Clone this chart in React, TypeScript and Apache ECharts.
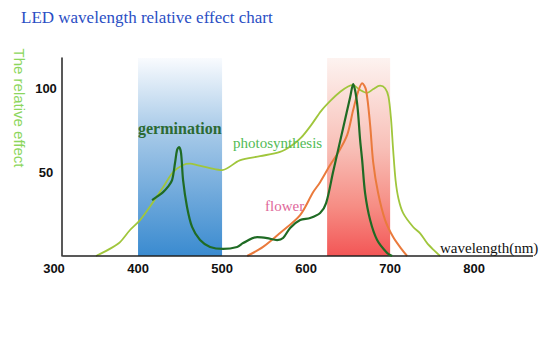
import React, { useEffect, useRef } from "react";
import * as echarts from "echarts";

const titleText = "LED wavelength relative effect chart";
const yAxisTitle = "The relative effect";
const xAxisTitle = "wavelength(nm)";

const xMin = 300;
const xMax = 870;
const yMax = 118;
const xTickStep = 100;
const yTickStep = 50;

const blueBand = [400, 500];
const redBand = [625, 700];

// [wavelength nm, relative effect]
const photosynthesis: [number, number][] = [
  [350, 0], [369, 5], [378.6, 8.3], [390.5, 15.5], [402.4, 21.4], [417.9, 32.1],
  [429.8, 41], [441.7, 50], [453.6, 54.2], [462, 55], [470.2, 54.2], [485.7, 52.4],
  [500, 51.2], [521, 57], [545.2, 59.5], [569, 62], [582, 65.5], [594, 70.5],
  [606, 78], [618, 86.5], [630, 93], [641, 98], [650, 101], [656, 101.8],
  [664, 99], [672.6, 97.2], [680, 99.5], [688, 101.5], [694, 100], [698, 95],
  [701, 82], [703.6, 63.1], [706.5, 45], [710, 34], [715.5, 25.6], [727.4, 17.3],
  [735.7, 13.5], [744, 7.7], [752, 3.5], [759.5, 0],
];

const germination: [number, number][] = [
  [416.7, 33.3], [423, 35.5], [429.8, 38.1], [436, 41.5], [440.5, 45.2], [444, 55.4],
  [446.4, 63.1], [448.8, 64.9], [451.2, 61.3], [453.6, 45.2], [458.3, 29.2],
  [464.3, 17.3], [473.8, 9.5], [485.7, 5.4], [501.2, 4.2], [517.9, 5.4], [525, 7.7],
  [541.7, 11.3], [553.6, 10.7], [565.5, 9.5], [572.6, 10.7], [581, 16.7],
  [592.9, 21.4], [604.8, 22.6], [616.7, 25.6], [623.8, 31.5], [632.1, 50],
  [644, 76.2], [652.4, 94.6], [656, 102.4], [660.7, 91], [664.3, 69],
  [666.7, 57.1], [670.2, 37.5], [676.2, 21.4], [684.5, 9.5], [696.4, 1.8], [702.4, 0],
];

const flower: [number, number][] = [
  [529.8, 0], [548.8, 5.4], [569, 13.7], [592.9, 24.4], [608.3, 38], [616.7, 44],
  [628.6, 54.2], [638, 61.5], [648.8, 72], [656, 87], [661.9, 98], [666.7, 103],
  [671.4, 98.8], [676.2, 78], [679.8, 56], [685.7, 37.5], [694, 21.4],
  [703.6, 11.3], [714.3, 3.6], [720.2, 0],
];

const baseline: [number, number][] = [[310, 0], [xMax, 0]];

const serif = "'Liberation Serif', 'Times New Roman', serif";
const sans = "'Liberation Sans', Arial, sans-serif";

export default function App() {
  const ref = useRef<HTMLDivElement>(null);

  useEffect(() => {
    if (!ref.current) return;
    const chart = echarts.init(ref.current, null, { renderer: "svg" });
    chart.setOption({
      animation: false,
      backgroundColor: "#ffffff",
      title: {
        text: titleText,
        left: 21,
        top: 9,
        padding: 0,
        textStyle: { fontFamily: serif, fontSize: 17, fontWeight: "normal", color: "#2a4ec4" },
      },
      grid: { left: 54, right: 7, top: 58, bottom: 81 },
      xAxis: {
        type: "value",
        min: xMin,
        max: xMax,
        interval: xTickStep,
        axisLine: { show: false },
        axisTick: { show: false },
        splitLine: { show: false },
        axisLabel: {
          margin: 6,
          fontFamily: sans,
          fontSize: 13,
          fontWeight: "bold",
          color: "#111",
          formatter: (v: number) => (v % 100 === 0 ? String(v) : ""),
        },
      },
      yAxis: {
        type: "value",
        min: 0,
        max: yMax,
        interval: yTickStep,
        offset: -8,
        axisLine: { show: true, lineStyle: { color: "#222", width: 1.5 } },
        axisTick: { show: false },
        splitLine: { show: false },
        axisLabel: {
          margin: 16,
          align: "center",
          fontFamily: sans,
          fontSize: 13,
          fontWeight: "bold",
          color: "#111",
          formatter: (v: number) => (v === 0 || v % 50 !== 0 ? "" : String(v)),
        },
      },
      series: [
        {
          type: "line",
          name: "bands",
          z: 1,
          data: [],
          silent: true,
          markArea: {
            silent: true,
            data: [
              [
                {
                  xAxis: blueBand[0],
                  itemStyle: {
                    color: new echarts.graphic.LinearGradient(0, 0, 0, 1, [
                      { offset: 0, color: "#f9fbfe" },
                      { offset: 0.35, color: "#abcce9" },
                      { offset: 0.7, color: "#6ea8db" },
                      { offset: 1, color: "#3a8bd0" },
                    ]),
                  },
                },
                { xAxis: blueBand[1] },
              ],
              [
                {
                  xAxis: redBand[0],
                  itemStyle: {
                    color: new echarts.graphic.LinearGradient(0, 0, 0, 1, [
                      { offset: 0, color: "#fdf3f0" },
                      { offset: 0.45, color: "#f8c0b8" },
                      { offset: 0.75, color: "#f68d84" },
                      { offset: 1, color: "#f35656" },
                    ]),
                  },
                },
                { xAxis: redBand[1] },
              ],
            ],
          },
          markLine: {
            silent: true,
            symbol: "none",
            label: { show: false },
            lineStyle: { color: "#222", width: 1.5, type: "solid" },
            data: [[{ coord: baseline[0] }, { coord: baseline[1] }]],
          },
        },
        {
          type: "line",
          name: "photosynthesis",
          z: 3,
          data: photosynthesis,
          showSymbol: false,
          smooth: 0.3,
          lineStyle: { color: "#a0c63c", width: 1.8 },
        },
        {
          type: "line",
          name: "flower",
          z: 4,
          data: flower,
          showSymbol: false,
          smooth: 0.3,
          lineStyle: { color: "#ea7a3c", width: 2 },
        },
        {
          type: "line",
          name: "germination",
          z: 5,
          data: germination,
          showSymbol: false,
          smooth: 0.3,
          lineStyle: { color: "#1f6b24", width: 2.2 },
        },
      ],
      graphic: [
        {
          type: "text",
          x: 19,
          y: 108,
          rotation: -Math.PI / 2,
          style: {
            text: yAxisTitle,
            fontFamily: sans,
            fontSize: 15,
            fill: "#8cd65c",
            align: "center",
            verticalAlign: "middle",
          },
        },
        {
          type: "text",
          x: 138,
          y: 128,
          z: 10,
          style: {
            text: "germination",
            fontFamily: serif,
            fontSize: 16,
            fontWeight: "bold",
            fill: "#2c6a33",
            verticalAlign: "middle",
          },
        },
        {
          type: "text",
          x: 233,
          y: 143,
          z: 10,
          style: {
            text: "photosynthesis",
            fontFamily: serif,
            fontSize: 15,
            fill: "#52bb55",
            verticalAlign: "middle",
          },
        },
        {
          type: "text",
          x: 265,
          y: 206,
          z: 10,
          style: {
            text: "flower",
            fontFamily: serif,
            fontSize: 15,
            fill: "#e0689a",
            verticalAlign: "middle",
          },
        },
        {
          type: "text",
          x: 440,
          y: 248,
          z: 10,
          style: {
            text: xAxisTitle,
            fontFamily: serif,
            fontSize: 15,
            fill: "#111",
            verticalAlign: "middle",
          },
        },
      ],
    });
    return () => chart.dispose();
  }, []);

  return (
    <div
      ref={ref}
      style={{ position: "absolute", left: 0, top: 0, width: 540, height: 337 }}
    />
  );
}
